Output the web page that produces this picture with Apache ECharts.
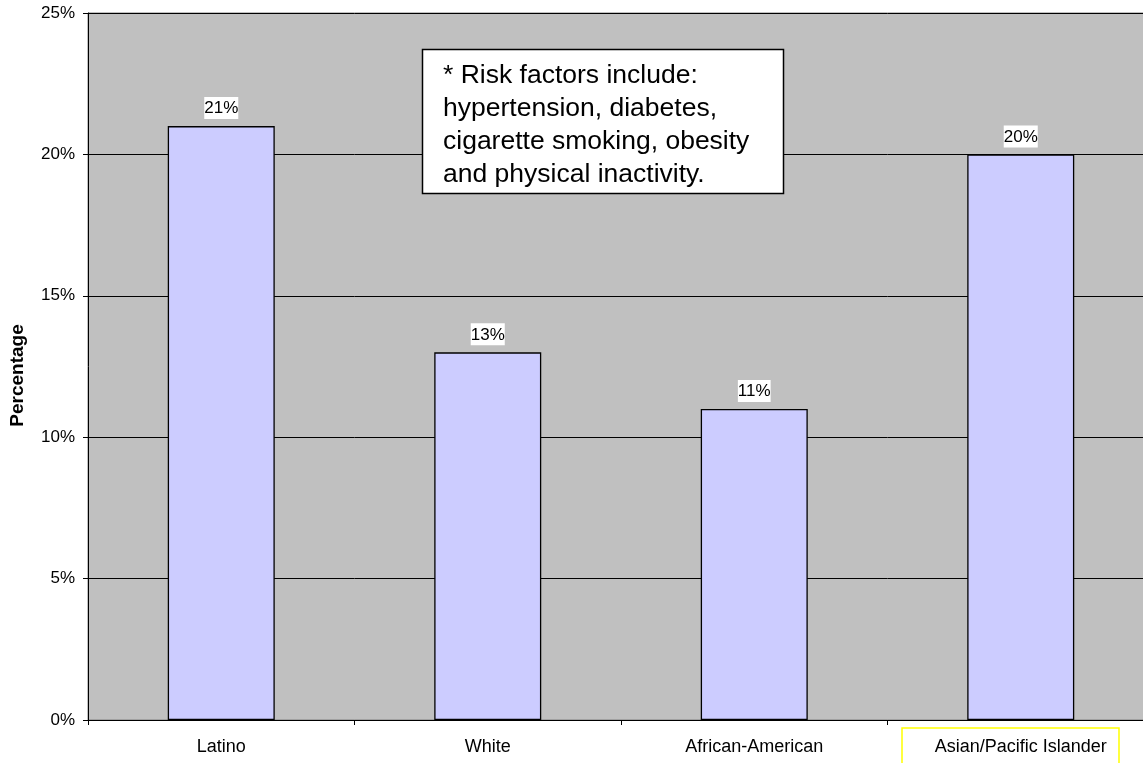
<!DOCTYPE html>
<html><head><meta charset="utf-8">
<script src="https://cdn.jsdelivr.net/npm/echarts@6/dist/echarts.min.js"></script>
<style>html,body{margin:0;padding:0;background:#fff;overflow:hidden}#c{width:1154px;height:763px}</style>
</head><body><div id="c"></div>
<script>
const categories = ['Latino', 'White', 'African-American', 'Asian/Pacific Islander'];
const values = [21, 13, 11, 20];
const yTicks = [0, 5, 10, 15, 20, 25];
const noteLines = ['* Risk factors include:', 'hypertension, diabetes,', 'cigarette smoking, obesity', 'and physical inactivity.'];

const chart = echarts.init(document.getElementById('c'));
const F = 'Liberation Sans, Arial, sans-serif';
chart.setOption({
  animation: false,
  grid: { left: 88, right: 0, top: 13, bottom: 43, outerBoundsMode: 'none', show: true, backgroundColor: '#C0C0C0', borderColor: '#808080', borderWidth: 1 },
  xAxis: {
    type: 'category', data: categories,
    axisLine: { lineStyle: { color: '#000', width: 1 } },
    axisTick: { show: true, length: 5, lineStyle: { color: '#000' } },
    axisLabel: { fontFamily: F, fontSize: 18, color: '#000', margin: 18 }
  },
  yAxis: {
    type: 'value', min: yTicks[0], max: yTicks[yTicks.length - 1], interval: 5,
    name: 'Percentage', nameLocation: 'middle', nameGap: 61,
    nameTextStyle: { fontFamily: F, fontSize: 19, fontWeight: 'bold', color: '#000', padding: [0, 18, 0, 0] },
    axisLine: { show: true, lineStyle: { color: '#000' } },
    axisTick: { show: true, length: 5, lineStyle: { color: '#000' } },
    axisLabel: { formatter: '{value}%', fontFamily: F, fontSize: 17, color: '#000', margin: 13 },
    splitLine: { show: true, lineStyle: { color: '#000', width: 1 } }
  },
  series: [{
    type: 'bar', data: values, barWidth: 107,
    itemStyle: { color: '#CCCCFF', borderColor: '#000', borderWidth: 1.3 },
    label: { show: true, position: 'top', distance: 7, formatter: '{c}%', fontFamily: F, fontSize: 17, color: '#000', backgroundColor: '#fff', padding: [3, 0, 2, 0] }
  }],
  graphic: [
    { type: 'rect', shape: { x: 422.5, y: 49.5, width: 361, height: 144 }, style: { fill: '#fff', stroke: '#000', lineWidth: 1.5 }, z: 100 },
    { type: 'text', left: 443, top: 59, z: 101, style: { text: noteLines.join('\n'), font: '26.5px Liberation Sans, Arial, sans-serif', fill: '#000', lineHeight: 33 } },
    { type: 'rect', shape: { x: 902, y: 728, width: 217, height: 40 }, style: { fill: 'none', stroke: '#FFFF00', lineWidth: 1.5 }, z: 100 }
  ]
});
</script></body></html>
